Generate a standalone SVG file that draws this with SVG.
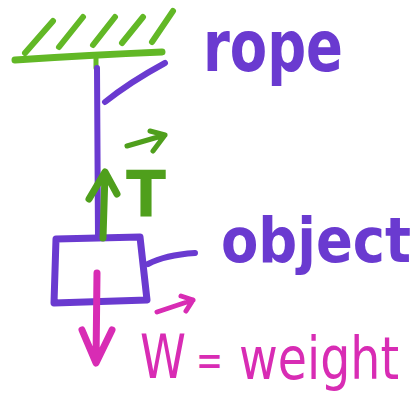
<svg xmlns="http://www.w3.org/2000/svg" width="415" height="411" viewBox="0 0 415 411">
<style>
.g{stroke:#62b826;fill:none;stroke-linecap:round;stroke-linejoin:round}
.gd{stroke:#4f9f1c;fill:none;stroke-linecap:round;stroke-linejoin:round}
.p{stroke:#6a3ad0;fill:none;stroke-linecap:round;stroke-linejoin:round}
.m{stroke:#d82cb4;fill:none;stroke-linecap:round;stroke-linejoin:round}
.tp{fill:#6a3ad0;font-family:"DejaVu Sans Condensed","DejaVu Sans",sans-serif;font-weight:bold}
.tm{fill:#d82cb4;font-family:"DejaVu Sans Condensed","DejaVu Sans",sans-serif}
.tg{fill:#4f9f1c;font-family:"DejaVu Sans Condensed","DejaVu Sans",sans-serif;font-weight:bold}
</style>
<rect width="415" height="411" fill="#ffffff"/>
<g id="ceiling">
<path class="g" stroke-width="7" d="M15,60 Q90,55 162,52"/>
<path class="g" stroke-width="6" d="M25,53 L53,21 M59,47 L83,17 M93,45 L115,17 M122,43 L143,17 M152,42 L173,11"/>
<path class="g" stroke-width="5" d="M96,57 L96,68"/>
</g>
<g id="rope">
<path class="p" stroke-width="6" d="M97,68 L98,238"/>
</g>
<g id="object">
<path class="p" stroke-width="7" d="M56,239 L140,237 L147,300 L54,303 Z"/>
</g>
<g id="tension">
<path class="gd" stroke-width="7" d="M103,238 L105,173 M89,199 L105,172 L117,194"/>
<text class="tg" x="126" y="217" font-size="64" textLength="40" lengthAdjust="spacingAndGlyphs">T</text>
<path class="gd" stroke-width="5" d="M127,146 L165,135 M150,131 L165,135 L153,151"/>
</g>
<g id="weight">
<path class="m" stroke-width="7" d="M97,273 L96,362 M82,330 L96,363 L112,330"/>
<path class="m" stroke-width="5" d="M157,312 L193,300 M181,296 L193,300 L186,311"/>
<text class="tm" x="140" y="378" font-size="60" textLength="46" lengthAdjust="spacingAndGlyphs">W</text>
<text class="tm" x="196" y="376" font-size="46" textLength="27" lengthAdjust="spacingAndGlyphs">=</text>
<text class="tm" x="239" y="379" font-size="58" textLength="160" lengthAdjust="spacingAndGlyphs">weight</text>
</g>
<g id="labels">
<text class="tp" x="203" y="71" font-size="72" textLength="140" lengthAdjust="spacingAndGlyphs">rope</text>
<text class="tp" x="221" y="262" font-size="62" textLength="190" lengthAdjust="spacingAndGlyphs">object</text>
</g>
<g id="connectors">
<path class="p" stroke-width="6" d="M105,102 Q130,82 165,63"/>
<path class="p" stroke-width="6" d="M148,264 Q165,255 195,253"/>
</g>
</svg>
